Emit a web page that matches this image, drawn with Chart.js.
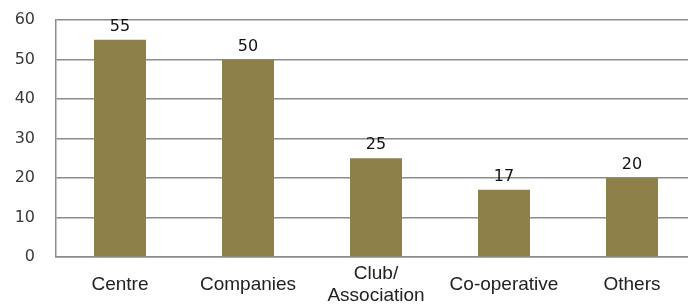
<!DOCTYPE html>
<html>
<head>
<meta charset="utf-8">
<script src="https://cdn.jsdelivr.net/npm/chart.js@4/dist/chart.umd.min.js"></script>
<style>
  html, body { margin: 0; padding: 0; background: #fff; overflow: hidden; }
  #wrap { position: absolute; left: 0; top: 0; width: 700px; height: 304px; }
</style>
</head>
<body>
<div id="wrap"><canvas id="orgChart"></canvas></div>
<script>
// Data
const categories = ["Centre", "Companies", ["Club/", "Association"], "Co-operative", "Others"];
const counts = [55, 50, 25, 17, 20];
const yTicks = [0, 10, 20, 30, 40, 50, 60];

// Value labels above each bar
const valueLabels = {
    id: "valueLabels",
    afterDatasetsDraw(chart) {
        const ctx = chart.ctx;
        const meta = chart.getDatasetMeta(0);
        ctx.save();
        ctx.font = "16px 'DejaVu Sans'";
        ctx.fillStyle = "#111";
        ctx.textAlign = "center";
        ctx.textBaseline = "bottom";
        meta.data.forEach((bar, i) => {
            ctx.fillText(String(counts[i]), bar.x, bar.y - 5);
        });
        ctx.restore();
    },
};

const ctx = document.getElementById("orgChart").getContext("2d");
new Chart(ctx, {
    type: "bar",
    data: {
        labels: categories,
        datasets: [
            {
                data: counts,
                backgroundColor: "#8d8049",
                borderWidth: 0,
                barPercentage: 0.406,
                categoryPercentage: 1,
            },
        ],
    },
    options: {
        responsive: true,
        maintainAspectRatio: false,
        animation: false,
        layout: { padding: { top: 20, right: 4, left: 0, bottom: 0 } },
        plugins: {
            legend: { display: false },
            tooltip: { enabled: false },
        },
        scales: {
            x: {
                grid: { display: false, drawTicks: false },
                border: { display: true, color: "#8c8c8c", width: 1.5 },
                ticks: {
                    color: "#222",
                    font: { family: "'Liberation Sans', Arial", size: 19, lineHeight: 1.16 },
                    padding: 17,
                    crossAlign: "center",
                    maxRotation: 0,
                    autoSkip: false,
                },
                afterFit(scale) {
                    scale.height = 47;
                    scale.paddingLeft = 0;
                    scale.paddingRight = 0;
                },
            },
            y: {
                min: 0,
                max: 60,
                afterBuildTicks(scale) {
                    scale.ticks = yTicks.map((v) => ({ value: v }));
                },
                grid: { color: "#8c8c8c", lineWidth: 1.5, drawTicks: false },
                border: { display: true, color: "#8c8c8c", width: 1.5 },
                ticks: {
                    color: "#3a3a3a",
                    font: { family: "'DejaVu Sans'", size: 16 },
                    padding: 21,
                },
                afterFit(scale) {
                    scale.width = 56;
                    scale.paddingTop = 0;
                    scale.paddingBottom = 0;
                },
            },
        },
    },
    plugins: [valueLabels],
});
</script>
</body>
</html>
